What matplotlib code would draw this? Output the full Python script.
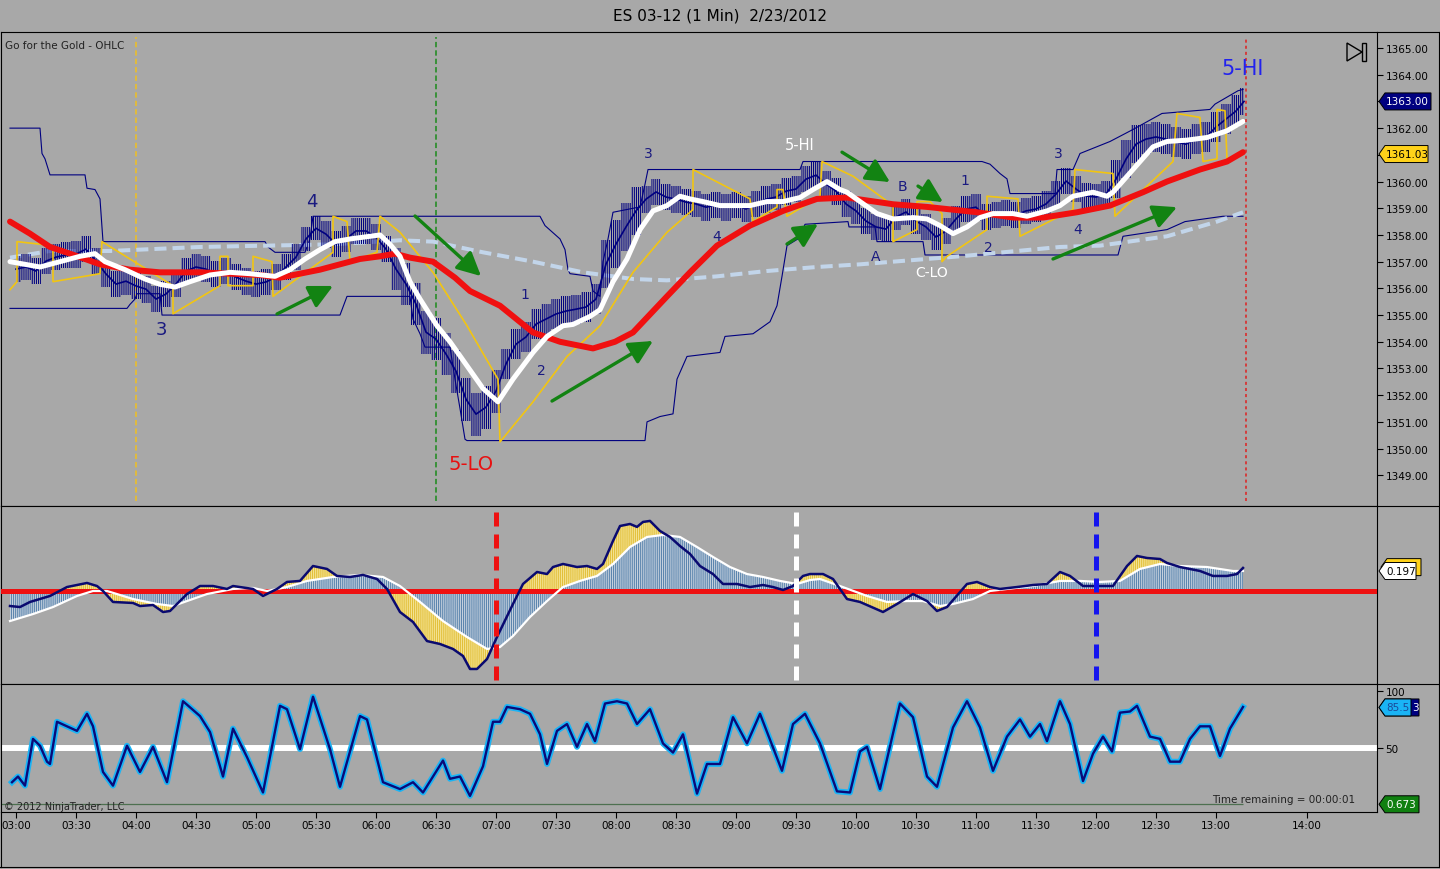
import numpy as np
import matplotlib
matplotlib.use('Agg')
import matplotlib.pyplot as plt
from matplotlib.patches import Polygon, Rectangle
from matplotlib.lines import Line2D
from matplotlib.transforms import IdentityTransform

plt.rcParams['hatch.linewidth'] = 0.75

# all times are minutes after 03:00
# 5-minute price bars: close and half range
bar_t = list(range(0, 615, 5)) + [614]
bar_c = [1356.72, 1356.80, 1356.65, 1357.02, 1357.17, 1357.25, 1357.28, 1357.47, 1357.02, 1356.54,
         1356.16, 1356.27, 1356.09, 1355.97, 1355.60, 1355.79, 1356.16, 1356.65, 1356.80, 1356.72,
         1356.54, 1356.65, 1356.42, 1356.27, 1356.16, 1356.24, 1356.42, 1356.80, 1357.17, 1357.85,
         1358.25, 1358.03, 1357.66, 1357.85, 1358.15, 1358.15, 1357.92, 1357.47, 1356.72, 1356.16,
         1355.41, 1354.36, 1354.10, 1353.54, 1352.90, 1351.85, 1351.29, 1351.55, 1352.15, 1353.17,
         1353.91, 1354.18, 1354.66, 1354.85, 1355.04, 1355.15, 1355.22, 1355.30, 1355.60, 1356.91,
         1357.66, 1358.30, 1358.90, 1359.34, 1359.61, 1359.42, 1359.34, 1359.23, 1359.16, 1359.04,
         1359.12, 1359.04, 1359.12, 1358.97, 1359.16, 1359.34, 1359.42, 1359.64, 1359.72, 1360.09,
         1360.24, 1359.91, 1359.64, 1359.16, 1358.90, 1358.52, 1358.30, 1358.22, 1358.67, 1358.86,
         1358.52, 1358.30, 1357.92, 1358.15, 1358.60, 1358.97, 1359.04, 1358.67, 1358.75, 1358.82,
         1358.75, 1358.90, 1358.97, 1359.16, 1359.53, 1360.02, 1359.72, 1359.46, 1359.42, 1359.53,
         1360.09, 1360.84, 1361.40, 1361.59, 1361.67, 1361.59, 1361.48, 1361.40, 1361.59, 1361.67,
         1362.04, 1362.34, 1362.64, 1363.00]
bar_r = [0.5, 0.5, 0.5, 0.5, 0.5, 0.5, 0.5, 0.5, 0.5, 0.5,
         0.5, 0.5, 0.5, 0.5, 0.5, 0.5, 0.5, 0.5, 0.5, 0.5,
         0.5, 0.5, 0.5, 0.5, 0.5, 0.5, 0.5, 0.5, 0.5, 0.45,
         0.45, 0.5, 0.5, 0.5, 0.5, 0.5, 0.5, 0.5, 0.8, 0.8,
         0.8, 0.8, 0.8, 0.8, 0.8, 0.8, 0.8, 0.8, 0.8, 0.55,
         0.55, 0.55, 0.55, 0.55, 0.55, 0.55, 0.55, 0.55, 0.55, 0.9,
         0.9, 0.9, 0.9, 0.5, 0.5, 0.5, 0.5, 0.5, 0.5, 0.5,
         0.5, 0.5, 0.5, 0.5, 0.5, 0.5, 0.5, 0.5, 0.5, 0.5,
         0.5, 0.5, 0.5, 0.5, 0.5, 0.5, 0.5, 0.5, 0.5, 0.5,
         0.5, 0.5, 0.5, 0.5, 0.5, 0.5, 0.5, 0.5, 0.5, 0.5,
         0.5, 0.5, 0.5, 0.5, 0.5, 0.5, 0.5, 0.5, 0.5, 0.5,
         0.7, 0.7, 0.7, 0.55, 0.55, 0.55, 0.55, 0.55, 0.55, 0.55,
         0.55, 0.55, 0.6, 0.5]

# fast average (white)
t_fast = [-3, 12, 22, 32, 39.5, 44.5, 54.5, 64.5, 72, 79.5, 87, 97, 107, 117, 129.5, 137, 144.5, 152,
          159.5, 167, 182, 187, 192, 197, 202, 210.5, 217, 225.5, 233.5, 241, 248.5, 258.5, 265.5,
          273.5, 278.5, 287, 292, 298.5, 305.5, 312, 318.5, 325.5, 332, 337, 343.5, 352, 358.5, 367,
          375.5, 383.5, 392, 398.5, 405.5, 412, 415.5, 422, 430.5, 438.5, 448.5, 455.5, 462, 468.5,
          475.5, 482, 488.5, 498.5, 505.5, 515.5, 522, 528.5, 538.5, 545.5, 548.5, 558.5, 568.5,
          575.5, 585.5, 595.5, 605.5, 613.5]
v_fast = [1357.0, 1356.8, 1357.0, 1357.2, 1357.3, 1357.0, 1356.7, 1356.35, 1356.15, 1356.05,
          1356.25, 1356.5, 1356.6, 1356.55, 1356.45, 1356.7, 1357.1, 1357.45, 1357.75, 1357.85,
          1358.0, 1357.65, 1357.2, 1356.25, 1355.6, 1354.6, 1354.0, 1353.1, 1352.25, 1351.75,
          1352.6, 1353.6, 1354.2, 1354.6, 1354.65, 1354.95, 1355.2, 1356.25, 1357.1, 1358.2,
          1358.9, 1359.1, 1359.45, 1359.35, 1359.25, 1359.1, 1359.1, 1359.1, 1359.25, 1359.25,
          1359.4, 1359.7, 1360.0, 1359.7, 1359.6, 1359.25, 1358.8, 1358.6, 1358.65, 1358.6,
          1358.35, 1358.05, 1358.3, 1358.65, 1358.8, 1358.8, 1358.7, 1358.9, 1359.1, 1359.45,
          1359.6, 1359.45, 1359.6, 1360.45, 1361.3, 1361.5, 1361.55, 1361.65, 1361.9, 1362.25]

# slow average (red)
t_slow = [-3, 7, 17, 27, 42, 57, 72, 92, 107, 122, 132, 142, 152, 162, 172, 182, 189.5, 197, 208.5,
          219.5, 227, 242, 258.5, 272, 288.5, 299.5, 308.5, 325.5, 337, 350.5, 367, 383.5, 400.5,
          415.5, 438.5, 455.5, 480.5, 498.5, 513.5, 530.5, 547, 563.5, 575.5, 592, 605.5, 613.5]
v_slow = [1358.5, 1358.05, 1357.55, 1357.3, 1356.9, 1356.7, 1356.6, 1356.6, 1356.55, 1356.5,
          1356.4, 1356.55, 1356.7, 1356.9, 1357.1, 1357.2, 1357.3, 1357.15, 1357.0, 1356.4,
          1355.9, 1355.35, 1354.35, 1354.0, 1353.75, 1354.0, 1354.35, 1355.7, 1356.6, 1357.6,
          1358.35, 1358.9, 1359.35, 1359.4, 1359.15, 1359.05, 1358.85, 1358.65, 1358.65, 1358.85,
          1359.1, 1359.6, 1360.0, 1360.45, 1360.75, 1361.1]

# long average (light blue dashed)
t_long = [-3, 17, 47, 92, 125.5, 158.5, 192, 208.5, 233.5, 258.5, 283.5, 308.5, 325.5, 350.5,
          375.5, 400.5, 422, 472, 522, 542, 575.5, 600.5, 613.5]
v_long = [1357.15, 1357.4, 1357.4, 1357.55, 1357.6, 1357.65, 1357.8, 1357.75, 1357.35, 1357.0,
          1356.6, 1356.35, 1356.3, 1356.45, 1356.65, 1356.8, 1356.9, 1357.2, 1357.55, 1357.6,
          1357.95, 1358.5, 1358.85]

# channel upper / lower
t_up = [-3, 12, 13, 14.5, 17, 34.5, 35.5, 39.5, 42, 43.5, 124.5, 126, 129.5, 144.5, 147, 148.5, 262,
        264.5, 272, 274.5, 276, 277, 287, 288.5, 292, 293.5, 296, 298.5, 312, 314.5, 316, 392, 393.5,
        483, 487, 492, 495.5, 497, 519.5, 520.5, 528.5, 532, 537, 547, 558.5, 573, 597, 599.5, 611,
        613.5]
v_up = [1362.0, 1362.0, 1361.05, 1360.85, 1360.25, 1360.25, 1359.75, 1359.7, 1359.35, 1357.75,
        1357.75, 1357.55, 1357.35, 1357.35, 1357.85, 1358.7, 1358.7, 1358.35, 1357.85, 1357.45,
        1356.7, 1356.55, 1356.45, 1355.9, 1355.7, 1357.0, 1357.85, 1358.85, 1359.05, 1359.9,
        1360.45, 1360.45, 1360.75, 1360.75, 1360.65, 1360.3, 1360.1, 1359.55, 1359.55, 1360.45,
        1360.45, 1361.05, 1361.2, 1361.5, 1361.95, 1362.55, 1362.7, 1362.9, 1363.4, 1363.45]
t_lo = [-3, 55.5, 57, 59.5, 60.5, 72, 73, 162, 163, 165.5, 197, 198.5, 202, 204.5, 217, 219.5, 222,
        224.5, 225.5, 314.5, 315.5, 322, 328.5, 330.5, 335.5, 352, 354.5, 368.5, 377, 380.5, 383,
        385.5, 392, 394.5, 416, 416.5, 429.5, 430.5, 453.5, 454.5, 551, 553.5, 575.5, 584.5, 603.5,
        613.5]
v_lo = [1355.25, 1355.25, 1355.4, 1355.6, 1355.8, 1355.8, 1355.0, 1355.0, 1355.2, 1355.7,
        1355.7, 1354.85, 1354.3, 1353.8, 1353.8, 1352.6, 1351.5, 1350.35, 1350.3, 1350.3,
        1351.0, 1351.2, 1351.3, 1352.6, 1353.45, 1353.6, 1354.2, 1354.3, 1354.75, 1355.35,
        1356.45, 1357.6, 1357.9, 1358.4, 1358.5, 1358.3, 1358.3, 1357.75, 1357.75, 1357.25,
        1357.25, 1357.95, 1358.2, 1358.5, 1358.7, 1358.7]

# trailing stop (yellow)
t_stop = [-3, 0.5, 0.5, 18.5, 18.5, 42, 43, 78.5, 78.5, 102, 102, 106, 106, 118.5, 118.5, 128, 128.5,
          158.5, 158.5, 165.5, 167, 180.5, 182, 192, 208.5, 225.5, 241, 242, 258.5, 275.5, 292,
          308.5, 325.5, 338.5, 338.5, 367, 368.5, 380.5, 380.5, 383.5, 385.5, 402, 403, 418.5,
          438.5, 438.5, 450.5, 450.5, 457, 463, 463, 465.5, 485.5, 485.5, 501, 502, 528.5, 529.5,
          548.5, 549.5, 578.5, 580.5, 592, 593.5, 600.5, 600.5, 604.5, 605.5, 610.5, 613.5]
v_stop = [1355.95, 1356.25, 1357.75, 1357.6, 1356.25, 1356.55, 1357.75, 1356.1, 1355.05, 1356.1,
          1357.2, 1357.2, 1356.1, 1356.1, 1357.2, 1357.0, 1355.7, 1357.35, 1358.7, 1358.5,
          1357.0, 1357.35, 1358.7, 1358.1, 1356.6, 1354.6, 1352.6, 1350.25, 1351.75, 1353.45,
          1354.6, 1356.6, 1358.1, 1358.95, 1360.45, 1359.35, 1358.5, 1359.05, 1359.7, 1359.7,
          1358.7, 1359.45, 1360.75, 1360.2, 1359.1, 1357.75, 1358.2, 1359.25, 1359.25, 1358.8,
          1357.0, 1357.2, 1358.2, 1359.45, 1359.35, 1357.95, 1358.95, 1360.45, 1360.3, 1358.7,
          1360.75, 1362.55, 1362.4, 1360.75, 1360.85, 1362.7, 1362.65, 1360.85, 1360.9, 1361.03]

# oscillator: main line (navy) and signal (white / histogram)
t_macd = [-3, 2, 7, 17, 25.5, 35.5, 40.5, 43.5, 48.5, 58.5,
          62, 68.5, 73.5, 77, 80.5, 85.5, 92, 98.5, 105.5, 108.5,
          118.5, 123.5, 130.5, 135.5, 142, 148.5, 155.5, 160.5, 167, 173.5,
          180.5, 185.5, 192, 198.5, 205.5, 212, 218.5, 223.5, 227, 230.5,
          235.5, 240.5, 248.5, 253.5, 260.5, 265.5, 268.5, 273.5, 280.5, 285.5,
          290.5, 293.5, 298.5, 302, 307, 310.5, 313.5, 317, 322, 327,
          332, 337, 342, 348.5, 353.5, 360.5, 367, 373.5, 378.5, 383.5,
          388.5, 393.5, 397, 403.5, 408.5, 415.5, 422, 433.5, 440.5, 448.5,
          455.5, 460.5, 465.5, 475.5, 480.5, 487, 492, 500.5, 508.5, 515.5,
          522, 527, 533.5, 542, 548.5, 555.5, 560.5, 565.5, 572, 575.5,
          582, 592, 598.5, 605.5, 610.5, 613.5]
v_macd = [-0.148, -0.158, -0.108, -0.049, 0.039, 0.079, 0.049, 0.0, -0.108, -0.118,
          -0.148, -0.138, -0.207, -0.197, -0.128, -0.03, 0.049, 0.049, 0.02, 0.049,
          0.02, -0.049, 0.02, 0.089, 0.099, 0.246, 0.217, 0.148, 0.138, 0.158,
          0.118, 0.02, -0.207, -0.305, -0.493, -0.522, -0.571, -0.64, -0.768, -0.768,
          -0.67, -0.453, -0.128, 0.069, 0.187, 0.167, 0.236, 0.266, 0.236, 0.246,
          0.217, 0.266, 0.493, 0.64, 0.66, 0.631, 0.68, 0.69, 0.591, 0.532,
          0.443, 0.365, 0.246, 0.167, 0.069, 0.069, 0.039, 0.059, 0.039, 0.01,
          0.049, 0.148, 0.167, 0.167, 0.118, -0.079, -0.108, -0.207, -0.128, -0.03,
          -0.099, -0.197, -0.158, 0.069, 0.089, 0.039, 0.02, 0.039, 0.059, 0.069,
          0.187, 0.148, 0.049, 0.049, 0.049, 0.246, 0.345, 0.325, 0.315, 0.276,
          0.236, 0.197, 0.148, 0.148, 0.167, 0.227]
t_sig = [-3, 8.5, 18.5, 30.5, 38.5, 45.5, 58.5, 70.5, 78.5, 85.5,
         95.5, 108.5, 118.5, 125.5, 135.5, 145.5, 158.5, 172, 183.5, 192,
         202, 213.5, 225.5, 235.5, 242, 248.5, 257, 265.5, 273.5, 282,
         290.5, 298.5, 307, 315.5, 323.5, 332, 340.5, 348.5, 357, 365.5,
         373.5, 382, 390.5, 397, 402, 412, 425.5, 435.5, 445.5, 453.5,
         462, 468.5, 478.5, 487, 495.5, 508.5, 522, 532, 542, 552,
         562, 572, 582, 595.5, 608.5, 613.5]
v_sig = [-0.296, -0.227, -0.158, -0.049, 0.0, 0.0, -0.079, -0.128, -0.148, -0.099,
         -0.03, 0.02, 0.03, 0.0, 0.039, 0.099, 0.138, 0.158, 0.138, 0.049,
         -0.108, -0.296, -0.453, -0.571, -0.552, -0.443, -0.256, -0.099, 0.039, 0.099,
         0.148, 0.266, 0.433, 0.532, 0.552, 0.532, 0.433, 0.335, 0.236, 0.167,
         0.138, 0.099, 0.069, 0.108, 0.118, 0.049, -0.049, -0.108, -0.099, -0.099,
         -0.148, -0.128, -0.079, 0.0, 0.02, 0.049, 0.099, 0.099, 0.089, 0.099,
         0.217, 0.266, 0.246, 0.236, 0.197, 0.197]

# stochastic
t_sto = [-2, 1, 4.5, 8.5, 12, 15.5, 17, 20.5, 25.5, 30.5,
         35.5, 38.5, 43.5, 48.5, 55.5, 62, 68.5, 75.5, 83.5, 92,
         97, 103.5, 108.5, 115.5, 123.5, 132, 135.5, 142, 148.5, 157,
         162, 172, 175.5, 183.5, 192, 198.5, 203.5, 213.5, 217, 222,
         227, 233.5, 238.5, 242, 245.5, 252, 257, 262, 265.5, 270.5,
         275.5, 280.5, 285.5, 289.5, 294.5, 300.5, 305.5, 310.5, 317, 323.5,
         328.5, 333.5, 340.5, 345.5, 352, 358.5, 365.5, 372, 383, 388.5,
         394.5, 402, 410.5, 417, 422, 425.5, 432, 442, 448.5, 455.5,
         460.5, 468.5, 475.5, 482, 488.5, 495.5, 502, 507, 512, 515.5,
         522, 527, 533.5, 538.5, 543.5, 548, 552, 557, 560.5, 567,
         572, 577, 582, 587, 592, 597, 602, 607, 613.5]
v_sto = [20, 25, 17, 58, 52, 38, 36, 73, 69, 65,
         80, 69, 29, 17, 52, 29, 51, 20, 91, 78,
         64, 25, 67, 42, 11, 87, 84, 49, 95, 49,
         16, 78, 75, 20, 14, 20, 11, 39, 23, 25,
         8, 34, 73, 73, 86, 84, 80, 62, 36, 65,
         71, 51, 71, 56, 89, 91, 89, 71, 84, 54,
         46, 62, 10, 36, 36, 77, 54, 80, 30, 71,
         80, 54, 12, 11, 47, 51, 14, 89, 77, 25,
         16, 68, 91, 68, 30, 60, 75, 60, 71, 56,
         91, 71, 21, 45, 60, 47, 81, 82, 87, 60,
         58, 38, 38, 58, 69, 69, 43, 67, 86]
sto_floor = 0.673

xtick_pos = [0, 30, 60, 90, 120, 150, 180, 210, 240, 270, 300, 330, 360, 390, 420, 450, 480, 510,
             540, 570, 600, 645.5]
xtick_lab = ['03:00', '03:30', '04:00', '04:30', '05:00', '05:30', '06:00', '06:30', '07:00',
             '07:30', '08:00', '08:30', '09:00', '09:30', '10:00', '10:30', '11:00', '11:30',
             '12:00', '12:30', '13:00', '14:00']

# annotations: (text, time, price, colour, size)
labels = [('4', 148, 1359.27, '#1a1a80', 13), ('3', 72.5, 1354.48, '#1a1a80', 13),
          ('5-LO', 227.5, 1349.46, '#e81010', 14), ('1', 254.5, 1355.79, '#1a1a80', 10),
          ('2', 262.5, 1352.94, '#1a1a80', 10), ('3', 316, 1361.07, '#1a1a80', 10),
          ('4', 350.5, 1357.96, '#1a1a80', 10), ('5-HI', 392, 1361.40, 'white', 10.5),
          ('B', 443, 1359.83, '#1a1a80', 10), ('1', 474.5, 1360.06, '#1a1a80', 10),
          ('A', 430, 1357.21, '#1a1a80', 10), ('C-LO', 458, 1356.61, 'white', 10),
          ('2', 486, 1357.55, '#1a1a80', 10), ('3', 521, 1361.07, '#1a1a80', 10),
          ('4', 531, 1358.22, '#1a1a80', 10), ('5-HI', 613.5, 1364.25, '#2222ee', 15)]
# green arrows: (tail time, tail price, head time, head price)
arrows = [(130.5, 1355.04, 158.5, 1356.09), (199.5, 1358.71, 232.5, 1356.46),
          (268, 1351.78, 318.5, 1354.03), (385.5, 1357.66, 401, 1358.41),
          (413, 1361.10, 437, 1359.98), (451, 1359.83, 463.5, 1359.23),
          (518.5, 1357.10, 580.5, 1359.04)]

BG = '#a8a8a8'
NAVY = '#000080'
W, H = 1440, 870

fig = plt.figure(figsize=(14.4, 8.7), dpi=100, facecolor=BG)


def box(top, bottom):
    return [1 / W, (H - bottom) / H, 1376 / W, (bottom - top) / H]


ax1 = fig.add_axes(box(33, 507))
ax2 = fig.add_axes(box(507, 685))
ax3 = fig.add_axes(box(685, 813))
for ax in (ax1, ax2, ax3):
    ax.set_facecolor(BG)
    ax.set_xlim(-7.5, 680.5)
    for s in ax.spines.values():
        s.set_color('black')
        s.set_linewidth(0.8)
    ax.yaxis.tick_right()
    ax.tick_params(axis='y', direction='out', length=4.5, width=0.8, pad=1.5,
                   labelsize=7.5, colors='black')
ax1.set_ylim(1347.85, 1365.6)
ax2.set_ylim(-0.916, 0.837)
ax3.set_ylim(-6.1, 106.1)
ax1.set_xticks([])
ax2.set_xticks([])
ax2.set_yticks([])

# ---- price panel
bt = np.array(bar_t, dtype=float)
bc = np.array(bar_c)
br = np.array(bar_r)
ax1.plot(t_up, v_up, color=NAVY, lw=0.8, zorder=2)
ax1.plot(t_lo, v_lo, color=NAVY, lw=0.8, zorder=2)
ax1.plot(t_long, v_long, color='#c2d5ea', lw=2.9, dashes=(3, 1.5), zorder=2)
ax1.fill_between(bt, bc - br, bc + br, step='mid', facecolor='none', edgecolor=NAVY,
                 hatch='|' * 8, linewidth=0, zorder=3)
ax1.plot(bt, bc, color=NAVY, lw=1.2, zorder=3)
ax1.plot(t_stop, v_stop, color='#f2c511', lw=1.2, zorder=4)
ax1.plot(t_slow, v_slow, color='#f01010', lw=4.3, solid_capstyle='round', zorder=5)
ax1.plot(t_fast, v_fast, color='white', lw=3.6, solid_capstyle='round', zorder=6)

ax1.axvline(60, ymin=0.01, ymax=0.99, color='#f0c020', lw=1.1, dashes=(3.5, 2), zorder=1)
ax1.axvline(210, ymin=0.01, ymax=0.99, color='#1a8a1a', lw=1.1, dashes=(3.5, 2), zorder=1)
ax1.axvline(615, ymin=0.01, ymax=0.99, color='#e02020', lw=1.1, dashes=(2, 2), zorder=7)

for x0, y0, x1, y1 in arrows:
    ax1.annotate('', xy=(x1, y1), xytext=(x0, y0),
                 arrowprops=dict(arrowstyle='-|>,head_length=0.9,head_width=0.45',
                                 color='#128312', lw=2.4, mutation_scale=16,
                                 shrinkA=0, shrinkB=0), zorder=8)
for txt, x, y, c, s in labels:
    ax1.text(x, y, txt, color=c, fontsize=s, ha='center', va='center', zorder=9)

ax1.set_yticks(range(1349, 1366))
ax1.set_yticklabels([f'{v:.2f}' for v in range(1349, 1366)])
ax1.text(0.003, 0.973, 'Go for the Gold - OHLC', transform=ax1.transAxes, fontsize=7.5,
         ha='left', va='center', color='#222222')

# ---- oscillator panel
poly_x = np.r_[t_macd, t_sig[::-1]]
poly_y = np.r_[v_macd, v_sig[::-1]]
ax2.fill(poly_x, poly_y, facecolor='#e2bf3a', edgecolor='#f4e394', hatch='|' * 8,
         linewidth=0, zorder=2)
ax2.fill_between(t_sig, 0, v_sig, facecolor='#c5d1dd', edgecolor='#5a84ae',
                 hatch='|' * 8, linewidth=0, zorder=3)
ax2.axhline(0, color='#ee1111', lw=3.6, zorder=4)
ax2.plot(t_sig, v_sig, color='white', lw=1.6, zorder=5)
ax2.plot(t_macd, v_macd, color='#0a0a70', lw=1.8, zorder=6)
ax2.axvline(240, ymin=0.022, ymax=0.972, color='#ee1111', lw=3.6, dashes=(2.8, 1.6), zorder=7)
ax2.axvline(390, ymin=0.022, ymax=0.972, color='white', lw=3.6, dashes=(2.8, 1.6), zorder=7)
ax2.axvline(540, ymin=0.022, ymax=0.972, color='#1414ee', lw=3.6, dashes=(2.8, 1.6), zorder=7)

# ---- stochastic panel
ax3.axhline(50, color='white', lw=4.3, zorder=2)
ax3.hlines(sto_floor, -7.5, t_sto[-1], color='#4d7050', lw=0.9, zorder=2)
ax3.plot(t_sto, v_sto, color='#1ab4f5', lw=4.2, zorder=3)
ax3.plot(t_sto, v_sto, color='#0a0a78', lw=1.7, zorder=4)
ax3.set_yticks([50, 100])
ax3.set_yticklabels(['50', '100'])
ax3.set_xticks(xtick_pos)
ax3.set_xticklabels(xtick_lab)
ax3.tick_params(axis='x', direction='out', length=4, width=0.8, pad=2, labelsize=7.5)
ax3.text(0.002, 0.01, '\u00a9 2012 NinjaTrader, LLC', transform=ax3.transAxes, fontsize=7,
         ha='left', va='bottom', color='#222222')
ax3.text(0.932, 0.10, 'Time remaining = 00:00:01', transform=ax3.transAxes, fontsize=7.5,
         ha='center', va='center', color='#222222')

fig.text(0.5, 1 - 16 / H, 'ES 03-12 (1 Min)  2/23/2012', ha='center', va='center',
         fontsize=11, color='black')

ID = IdentityTransform()


def flag(ax, val, txt, fc, tc, w, z, x0=1379, h=17, ec='black', tx=None):
    y = ax.transData.transform((0, val))[1]
    pts = [(x0, y), (x0 + 6, y + h / 2), (x0 + w, y + h / 2), (x0 + w, y - h / 2),
           (x0 + 6, y - h / 2)]
    fig.add_artist(Polygon(pts, closed=True, facecolor=fc, edgecolor=ec, lw=0.7,
                           transform=ID, zorder=z))
    if txt:
        fig.text(x0 + 7 if tx is None else tx, y, txt, transform=ID, color=tc, fontsize=7.5,
                 ha='left', va='center', zorder=z + 0.5)


flag(ax1, 1363.00, '1363.00', NAVY, 'white', 52, 10)
flag(ax1, 1361.03, '1361.03', '#ffd21a', 'black', 49, 10)
flag(ax2, 0.235, '', '#ffd21a', 'black', 40, 10, x0=1381)
flag(ax2, 0.197, '0.197', 'white', 'black', 37, 12)
# two overlapping flags: navy one shows only its last digit
flag(ax3, 85.53, '3', NAVY, 'white', 40, 10, tx=1412)
flag(ax3, 85.53, '85.5', '#1ab4f5', '#1a4a9a', 32, 12)
flag(ax3, sto_floor, '0.673', '#108010', 'white', 40, 10)

# play-to-end icon
fig.add_artist(Polygon([(1347, 826), (1347, 808), (1362, 817)], closed=True, facecolor='none',
                       edgecolor='black', lw=1, transform=ID))
fig.add_artist(Rectangle((1362, 808), 4, 18, facecolor='none', edgecolor='black', lw=1,
                         transform=ID))

# frame lines outside the plotting areas
for y in (837, 363, 185):
    fig.add_artist(Line2D([1377, 1440], [y, y], color='black', lw=0.8, transform=ID))
fig.add_artist(Line2D([1439, 1439], [2, 837], color='black', lw=0.8, transform=ID))
fig.add_artist(Line2D([0, 1440], [2, 2], color='black', lw=0.8, transform=ID))
fig.add_artist(Line2D([1, 1], [2, 57], color='black', lw=0.8, transform=ID))

fig.savefig('out.png', dpi=100, facecolor=BG)
